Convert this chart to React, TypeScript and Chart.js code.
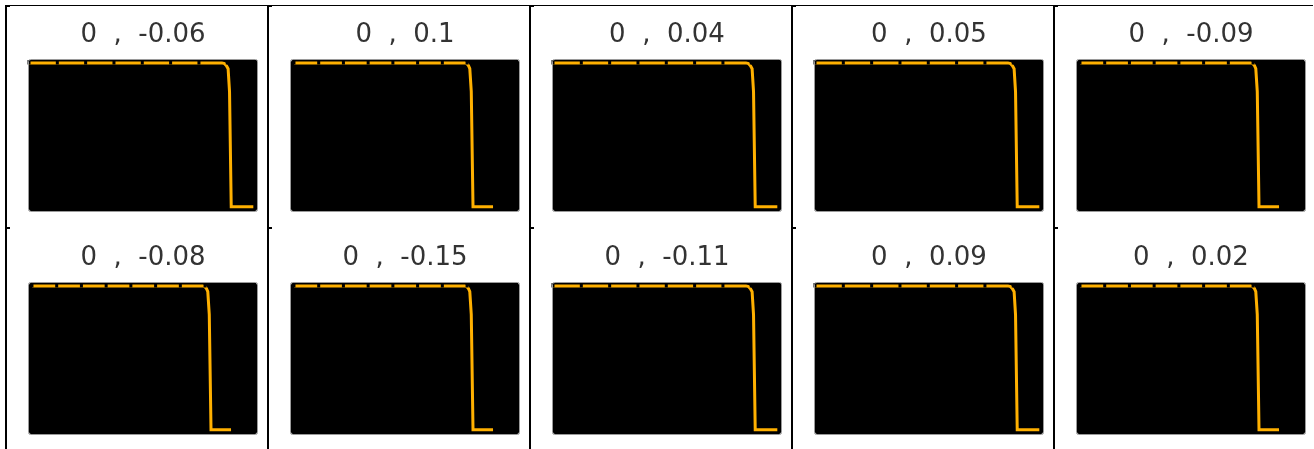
import React, { useEffect, useRef } from "react";
import { Chart, registerables } from "chart.js";

Chart.register(...registerables);

// ---- data ----
const titleA = [0, 0, 0, 0, 0, 0, 0, 0, 0, 0];
const titleB = [-0.06, 0.1, 0.04, 0.05, -0.09, -0.08, -0.15, -0.11, 0.09, 0.02];

const curveY = [1, 1, 0.995, 0.98, 0.96, 0.8, 0, 0];
const curveX = [
  [0, 6.81, 6.9, 6.97, 7.03, 7.08, 7.14, 7.92],
  [0, 6.9, 6.99, 7.06, 7.11, 7.17, 7.24, 8.05],
  [0, 6.81, 6.9, 6.97, 7.03, 7.08, 7.14, 7.92],
  [0, 6.81, 6.9, 6.97, 7.03, 7.08, 7.14, 7.92],
  [0, 6.9, 6.99, 7.06, 7.11, 7.17, 7.24, 8.05],
  [0, 6.9, 6.99, 7.06, 7.11, 7.17, 7.24, 8.05],
  [0, 6.9, 6.99, 7.06, 7.11, 7.17, 7.24, 8.05],
  [0, 6.81, 6.9, 6.97, 7.03, 7.08, 7.14, 7.92],
  [0, 6.81, 6.9, 6.97, 7.03, 7.08, 7.14, 7.92],
  [0, 6.9, 6.99, 7.06, 7.11, 7.17, 7.24, 8.05],
];
const xMin = [0, -0.12, 0, 0, -0.12, -0.12, -0.12, 0, 0, -0.12];
const xMax = [8.05, 9.1, 8.05, 8.05, 9.1, 9.1, 9.1, 8.05, 8.05, 9.1];

// ---- layout ----
const COL_LEFT = [5, 267, 529, 791, 1053];
const ROW_TOP = [5, 228];
const CANVAS_W = 260;
const CANVAS_H = 222;

function roundRect(ctx: CanvasRenderingContext2D, x: number, y: number, w: number, h: number, r: number) {
  ctx.beginPath();
  ctx.moveTo(x + r, y);
  ctx.lineTo(x + w - r, y);
  ctx.arcTo(x + w, y, x + w, y + r, r);
  ctx.lineTo(x + w, y + h - r);
  ctx.arcTo(x + w, y + h, x + w - r, y + h, r);
  ctx.lineTo(x + r, y + h);
  ctx.arcTo(x, y + h, x, y + h - r, r);
  ctx.lineTo(x, y + r);
  ctx.arcTo(x, y, x + r, y, r);
  ctx.closePath();
}

const framePlugin = {
  id: "frame",
  beforeDraw(chart: any) {
    const { ctx, chartArea: a } = chart;
    ctx.save();
    ctx.fillStyle = "#000";
    roundRect(ctx, a.left, a.top, a.right - a.left, a.bottom - a.top, 2);
    ctx.fill();
    ctx.restore();
  },
  afterDatasetsDraw(chart: any) {
    // short inward black tick marks along the top edge (they cut the flat line)
    const { ctx, chartArea: a } = chart;
    const sx = chart.scales.x;
    ctx.save();
    ctx.strokeStyle = "#000";
    ctx.lineWidth = 3;
    ctx.beginPath();
    sx.ticks.forEach((t: any) => {
      const px = sx.getPixelForValue(t.value);
      ctx.moveTo(px, a.top);
      ctx.lineTo(px, a.top + 4.5);
    });
    ctx.stroke();
    ctx.restore();
  },
  afterDraw(chart: any) {
    const { ctx, chartArea: a } = chart;
    ctx.save();
    ctx.strokeStyle = "#9a9a9a";
    ctx.lineWidth = 1;
    roundRect(ctx, a.left - 0.5, a.top - 0.5, a.right - a.left + 1, a.bottom - a.top + 1, 2);
    ctx.stroke();
    ctx.restore();
  },
};

function Cell({ idx }: { idx: number }) {
  const ref = useRef<HTMLCanvasElement>(null);
  useEffect(() => {
    const chart = new Chart(ref.current as HTMLCanvasElement, {
      type: "line",
      data: {
        datasets: [
          {
            data: curveX[idx].map((x, i) => ({ x, y: curveY[i] })),
            borderColor: "#FFB000",
            borderWidth: 3,
            pointRadius: 0,
            tension: 0,
            fill: false,
          },
        ],
      },
      options: {
        responsive: false,
        animation: false,
        devicePixelRatio: 1,
        layout: { padding: { left: 22, right: 10, top: 0, bottom: 16 } },
        plugins: {
          legend: { display: false },
          tooltip: { enabled: false },
          title: {
            display: true,
            text: `${titleA[idx]}  ,  ${titleB[idx]}`,
            color: "#333",
            font: { family: "DejaVu Sans", size: 26, weight: "normal" },
            padding: { top: 15, bottom: 8.8 },
          },
        },
        scales: {
          x: {
            type: "linear",
            min: xMin[idx],
            max: xMax[idx],
            ticks: { display: false, stepSize: 1, includeBounds: false },
            grid: { display: false, drawTicks: false },
            border: { display: false },
          },
          y: { display: false, min: -0.03, max: 1.02 },
        },
      } as any,
      plugins: [framePlugin],
    });
    return () => chart.destroy();
  }, [idx]);
  const col = idx % 5;
  const row = Math.floor(idx / 5);
  return (
    <canvas
      ref={ref}
      width={CANVAS_W}
      height={CANVAS_H}
      style={{
        position: "absolute",
        left: COL_LEFT[col] + 2,
        top: ROW_TOP[row],
        width: CANVAS_W,
        height: CANVAS_H,
      }}
    />
  );
}

export default function App() {
  const lines: React.ReactNode[] = [];
  lines.push(
    <div key="top" style={{ position: "absolute", left: 5, top: 5, width: 1308, height: 1, background: "#000" }} />
  );
  COL_LEFT.forEach((l, i) => {
    lines.push(
      <div key={"v" + i} style={{ position: "absolute", left: l, top: 5, width: 2, height: 444, background: "#000" }} />
    );
    lines.push(
      <div key={"s1" + i} style={{ position: "absolute", left: l + 2, top: 6, width: 3, height: 1, background: "#000" }} />
    );
    lines.push(
      <div key={"s2" + i} style={{ position: "absolute", left: l + 2, top: 227, width: 3, height: 2, background: "#000" }} />
    );
  });
  return (
    <div style={{ position: "absolute", left: 0, top: 0, width: 1314, height: 449, background: "#fff", overflow: "hidden" }}>
      {lines}
      {titleB.map((_, i) => (
        <Cell key={i} idx={i} />
      ))}
    </div>
  );
}
